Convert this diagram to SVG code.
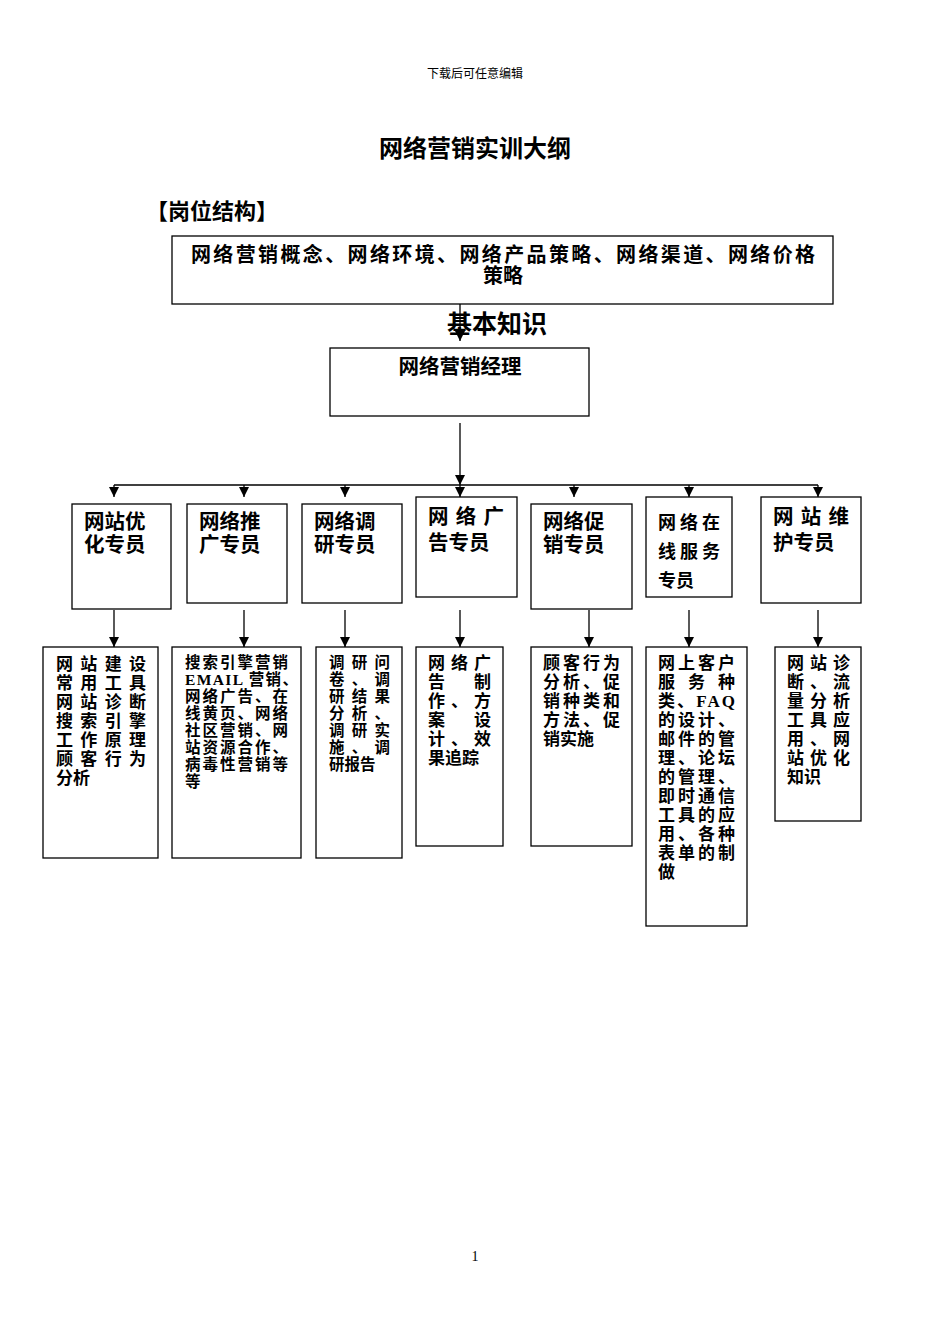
<svg xmlns="http://www.w3.org/2000/svg" width="950" height="1344" viewBox="0 0 950 1344">
<defs><marker id="a" markerWidth="10" markerHeight="10" refX="10" refY="5" orient="auto" markerUnits="userSpaceOnUse"><path d="M0,0 L10,5 L0,10 z" fill="#000"/></marker></defs>
<style>
text{font-family:"Liberation Serif","Noto Sans CJK SC",serif;fill:#000}
.b{font-weight:bold}
rect{fill:#fff;stroke:#000;stroke-width:1.3}
.c line{stroke:#000;stroke-width:1.3}
.m{font-size:20.5px;font-weight:bold}
.s{font-size:15.5px;font-weight:bold}
.t{font-size:17px}
</style>
<rect x="0" y="0" width="950" height="1344" style="stroke:none"/>
<text x="475" y="78" font-size="12" text-anchor="middle">下载后可任意编辑</text>
<text x="475" y="157" font-size="24" class="b" text-anchor="middle">网络营销实训大纲</text>
<text x="146" y="219" font-size="22" class="b">【岗位结构】</text>
<g id="top"><rect x="172" y="236" width="661" height="68"/>
<text x="503" y="262" class="b" font-size="20" text-anchor="middle" textLength="624" lengthAdjust="spacing">网络营销概念、网络环境、网络产品策略、网络渠道、网络价格</text>
<text x="503" y="283" class="b" font-size="20" text-anchor="middle">策略</text></g>
<g class="c"><line x1="460" y1="304" x2="460" y2="341" marker-end="url(#a)"/></g>
<text x="497" y="333" font-size="25" class="b" text-anchor="middle">基本知识</text>
<g id="mgr"><rect x="330" y="348" width="259" height="68"/><text x="460" y="374" class="m" text-anchor="middle">网络营销经理</text></g>
<g class="c" id="connectors">
<line x1="460" y1="423" x2="460" y2="485" marker-end="url(#a)"/>
<line x1="114" y1="485" x2="818" y2="485"/>
<line x1="114" y1="485" x2="114" y2="497" marker-end="url(#a)"/>
<line x1="244" y1="485" x2="244" y2="497" marker-end="url(#a)"/>
<line x1="345" y1="485" x2="345" y2="497" marker-end="url(#a)"/>
<line x1="460" y1="485" x2="460" y2="497" marker-end="url(#a)"/>
<line x1="574" y1="485" x2="574" y2="497" marker-end="url(#a)"/>
<line x1="689" y1="485" x2="689" y2="497" marker-end="url(#a)"/>
<line x1="818" y1="485" x2="818" y2="497" marker-end="url(#a)"/>
<line x1="114" y1="610" x2="114" y2="647" marker-end="url(#a)"/>
<line x1="244" y1="610" x2="244" y2="647" marker-end="url(#a)"/>
<line x1="345" y1="610" x2="345" y2="647" marker-end="url(#a)"/>
<line x1="460" y1="610" x2="460" y2="647" marker-end="url(#a)"/>
<line x1="589" y1="610" x2="589" y2="647" marker-end="url(#a)"/>
<line x1="689" y1="610" x2="689" y2="647" marker-end="url(#a)"/>
<line x1="818" y1="610" x2="818" y2="647" marker-end="url(#a)"/>
</g>
<g id="n1"><rect x="72" y="504" width="99" height="105"/><text x="84" y="529" class="m">网站优</text><text x="84" y="552" class="m">化专员</text></g>
<g id="n2"><rect x="187" y="504" width="100" height="99"/><text x="199" y="529" class="m">网络推</text><text x="199" y="552" class="m">广专员</text></g>
<g id="n3"><rect x="302" y="504" width="100" height="99"/><text x="314" y="529" class="m">网络调</text><text x="314" y="552" class="m">研专员</text></g>
<g id="n4"><rect x="416" y="497" width="101" height="100"/><text x="428" y="524" class="m" textLength="76" lengthAdjust="spacing">网络广</text><text x="428" y="550" class="m">告专员</text></g>
<g id="n5"><rect x="531" y="504" width="101" height="105"/><text x="543" y="529" class="m">网络促</text><text x="543" y="552" class="m">销专员</text></g>
<g id="n6"><rect x="646" y="497" width="86" height="100"/><text x="658" y="529" font-size="18" class="b" textLength="62" lengthAdjust="spacing">网络在</text><text x="658" y="558" font-size="18" class="b" textLength="62" lengthAdjust="spacing">线服务</text><text x="658" y="587" font-size="18" class="b">专员</text></g>
<g id="n7"><rect x="761" y="497" width="100" height="106"/><text x="773" y="524" class="m" textLength="76" lengthAdjust="spacing">网站维</text><text x="773" y="550" class="m">护专员</text></g>
<g id="b1" class="s"><rect x="43" y="647" width="115" height="211"/>
<text x="56" y="670" class="t" textLength="90" lengthAdjust="spacing">网站建设</text>
<text x="56" y="689" class="t" textLength="90" lengthAdjust="spacing">常用工具</text>
<text x="56" y="708" class="t" textLength="90" lengthAdjust="spacing">网站诊断</text>
<text x="56" y="727" class="t" textLength="90" lengthAdjust="spacing">搜索引擎</text>
<text x="56" y="746" class="t" textLength="90" lengthAdjust="spacing">工作原理</text>
<text x="56" y="765" class="t" textLength="90" lengthAdjust="spacing">顾客行为</text>
<text x="56" y="784" class="t">分析</text></g>
<g id="b2" class="s"><rect x="172" y="647" width="129" height="211"/>
<text x="185" y="668" textLength="103" lengthAdjust="spacing">搜索引擎营销</text>
<text x="185" y="685" textLength="113" lengthAdjust="spacing">EMAIL 营销、</text>
<text x="185" y="702" textLength="103" lengthAdjust="spacing">网络广告、在</text>
<text x="185" y="719" textLength="103" lengthAdjust="spacing">线黄页、网络</text>
<text x="185" y="736" textLength="103" lengthAdjust="spacing">社区营销、网</text>
<text x="185" y="753" textLength="103" lengthAdjust="spacing">站资源合作、</text>
<text x="185" y="770" textLength="103" lengthAdjust="spacing">病毒性营销等</text>
<text x="185" y="787">等</text></g>
<g id="b3" class="s"><rect x="316" y="647" width="86" height="211"/>
<text x="329" y="668" textLength="61" lengthAdjust="spacing">调研问</text>
<text x="329" y="685" textLength="61" lengthAdjust="spacing">卷、调</text>
<text x="329" y="702" textLength="61" lengthAdjust="spacing">研结果</text>
<text x="329" y="719" textLength="61" lengthAdjust="spacing">分析、</text>
<text x="329" y="736" textLength="61" lengthAdjust="spacing">调研实</text>
<text x="329" y="753" textLength="61" lengthAdjust="spacing">施、调</text>
<text x="329" y="770">研报告</text></g>
<g id="b4" class="s"><rect x="416" y="647" width="87" height="199"/>
<text x="428" y="669" class="t" textLength="63" lengthAdjust="spacing">网络广</text>
<text x="428" y="688" class="t" textLength="63" lengthAdjust="spacing">告制</text>
<text x="428" y="707" class="t" textLength="63" lengthAdjust="spacing">作、方</text>
<text x="428" y="726" class="t" textLength="63" lengthAdjust="spacing">案设</text>
<text x="428" y="745" class="t" textLength="63" lengthAdjust="spacing">计、效</text>
<text x="428" y="764" class="t">果追踪</text></g>
<g id="b5" class="s"><rect x="531" y="647" width="101" height="199"/>
<text x="543" y="669" class="t" textLength="77" lengthAdjust="spacing">顾客行为</text>
<text x="543" y="688" class="t" textLength="77" lengthAdjust="spacing">分析、促</text>
<text x="543" y="707" class="t" textLength="77" lengthAdjust="spacing">销种类和</text>
<text x="543" y="726" class="t" textLength="77" lengthAdjust="spacing">方法、促</text>
<text x="543" y="745" class="t">销实施</text></g>
<g id="b6" class="s"><rect x="646" y="647" width="101" height="279"/>
<text x="658" y="669" class="t" textLength="77" lengthAdjust="spacing">网上客户</text>
<text x="658" y="688" class="t" textLength="77" lengthAdjust="spacing">服务种</text>
<text x="658" y="707" class="t" textLength="77" lengthAdjust="spacing">类、FAQ</text>
<text x="658" y="726" class="t" textLength="77" lengthAdjust="spacing">的设计、</text>
<text x="658" y="745" class="t" textLength="77" lengthAdjust="spacing">邮件的管</text>
<text x="658" y="764" class="t" textLength="77" lengthAdjust="spacing">理、论坛</text>
<text x="658" y="783" class="t" textLength="77" lengthAdjust="spacing">的管理、</text>
<text x="658" y="802" class="t" textLength="77" lengthAdjust="spacing">即时通信</text>
<text x="658" y="821" class="t" textLength="77" lengthAdjust="spacing">工具的应</text>
<text x="658" y="840" class="t" textLength="77" lengthAdjust="spacing">用、各种</text>
<text x="658" y="859" class="t" textLength="77" lengthAdjust="spacing">表单的制</text>
<text x="658" y="878" class="t">做</text></g>
<g id="b7" class="s"><rect x="775" y="647" width="86" height="174"/>
<text x="787" y="669" class="t" textLength="63" lengthAdjust="spacing">网站诊</text>
<text x="787" y="688" class="t" textLength="63" lengthAdjust="spacing">断、流</text>
<text x="787" y="707" class="t" textLength="63" lengthAdjust="spacing">量分析</text>
<text x="787" y="726" class="t" textLength="63" lengthAdjust="spacing">工具应</text>
<text x="787" y="745" class="t" textLength="63" lengthAdjust="spacing">用、网</text>
<text x="787" y="764" class="t" textLength="63" lengthAdjust="spacing">站优化</text>
<text x="787" y="783" class="t">知识</text></g>
<text x="475" y="1261" font-size="14" text-anchor="middle">1</text>
</svg>
